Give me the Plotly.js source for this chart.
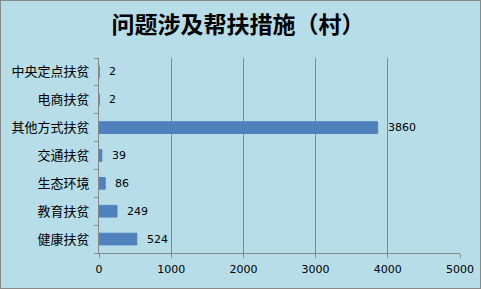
<!DOCTYPE html>
<html><head><meta charset="utf-8">
<script src="https://cdn.plot.ly/plotly-3.0.1.min.js"></script>
<style>
html,body{margin:0;padding:0;background:#b7dde8;}
#wrap{width:481px;height:289px;box-sizing:border-box;border:1px solid #898989;background:#b7dde8;position:relative;}
#chart{position:absolute;left:0;top:0;width:479px;height:287px;}
</style></head>
<body><div id="wrap"><div id="chart"></div></div>
<script>
const categories = ["健康扶贫","教育扶贫","生态环境","交通扶贫","其他方式扶贫","电商扶贫","中央定点扶贫"];
const values = [524, 249, 86, 39, 3860, 2, 2];
const xTicks = [0, 1000, 2000, 3000, 4000, 5000];

const annotations = categories.map((c, i) => ({
  x: values[i], y: c, xref: 'x', yref: 'y', text: String(values[i]),
  showarrow: false, xanchor: 'left', xshift: 8,
  font: {family: 'Verdana, DejaVu Sans, sans-serif', size: 11, color: '#000'}
}));

Plotly.newPlot('chart', [{
  type: 'bar', orientation: 'h', x: values, y: categories,
  marker: {color: '#4f81bd', line: {color: '#4f81bd', width: 1}}, hoverinfo: 'none'
}], {
  width: 479, height: 287,
  margin: {l: 98, r: 20, t: 57, b: 35, pad: 0},
  paper_bgcolor: '#b7dde8', plot_bgcolor: '#b7dde8',
  bargap: 0.58,
  showlegend: false,
  title: {text: '问题涉及帮扶措施（村）', x: 0.495, xanchor: 'center', y: 0.915, yanchor: 'middle',
    font: {family: 'Noto Sans CJK SC', size: 23, color: '#000', weight: 'bold'}},
  xaxis: {range: [0, 5000], tickvals: xTicks, ticktext: xTicks.map(String),
    showgrid: true, gridcolor: '#868686', gridwidth: 1, zeroline: false,
    showline: true, linecolor: '#868686', ticks: 'outside', ticklen: 4, tickcolor: '#868686',
    ticklabelstandoff: 2,
    tickfont: {family: 'Verdana, DejaVu Sans, sans-serif', size: 11, color: '#000'}, fixedrange: true},
  yaxis: {type: 'category', showgrid: false, zeroline: false,
    showline: true, linecolor: '#868686', ticks: 'outside', ticklen: 4, tickcolor: '#868686',
    tickson: 'boundaries',
    tickfont: {family: 'Noto Sans CJK SC', size: 13, color: '#000'}, ticklabelstandoff: 6},
  annotations: annotations
}, {displayModeBar: false, staticPlot: true});
</script></body></html>
